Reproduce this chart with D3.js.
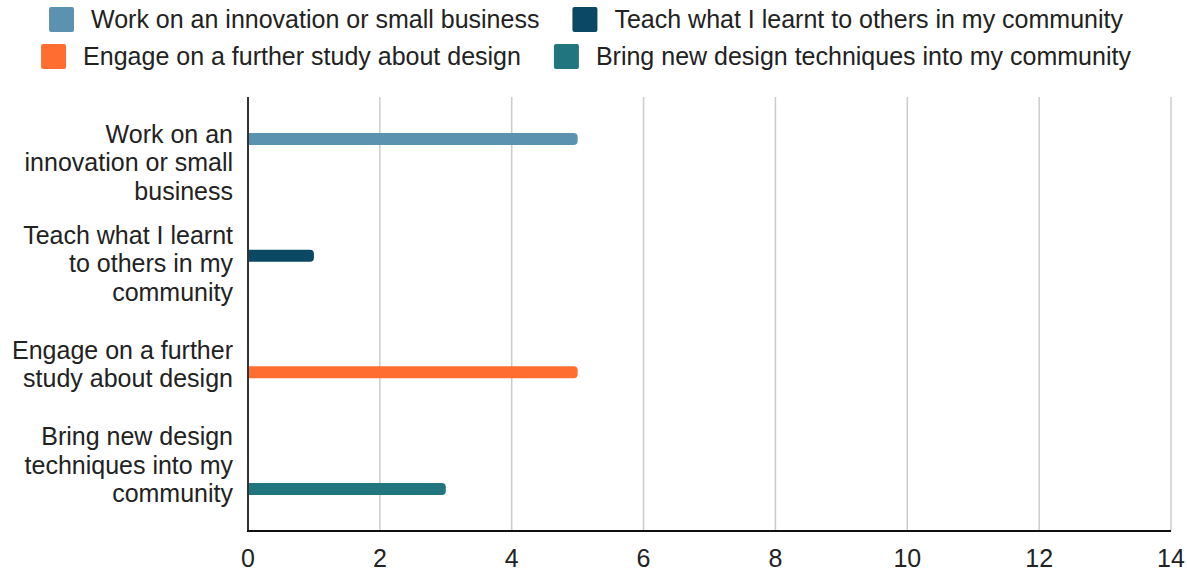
<!DOCTYPE html>
<html>
<head>
<meta charset="utf-8">
<script src="https://cdn.jsdelivr.net/npm/d3@7"></script>
<style>
  body { margin: 0; background: #fff; }
  text { font-family: Arial, "Liberation Sans", sans-serif; fill: #222; }
</style>
</head>
<body>
<svg id="chart" width="1187" height="571"></svg>
<script>
// categories and series
var categories = ["Work on an innovation or small business", "Teach what I learnt to others in my community",
                  "Engage on a further study about design", "Bring new design techniques into my community"];
var categoryLines = [
    ["Work on an", "innovation or small", "business"],
    ["Teach what I learnt", "to others in my", "community"],
    ["Engage on a further", "study about design"],
    ["Bring new design", "techniques into my", "community"]
];
var seriesNames = categories;
var seriesColors = ["#5b92b0", "#0b4864", "#ff6d31", "#20757f"];
// values[series][category]
var values = [
    [5, 0, 0, 0],
    [0, 1, 0, 0],
    [0, 0, 5, 0],
    [0, 0, 0, 3]
];
var xTicks = [0, 2, 4, 6, 8, 10, 12, 14];

var svg = d3.select("#chart");
var plotLeft = 248, plotRight = 1171, plotTop = 97, plotBottom = 531;
var fontSize = 25;

var x = d3.scaleLinear().domain([0, 14]).range([plotLeft, plotRight]);
var y0 = d3.scaleBand().domain(categories).range([plotTop, plotBottom]);
var bw = y0.bandwidth();
var y1 = d3.scaleBand().domain(seriesNames).range([bw * 0.35, bw * 0.65]);
var yLabel = d3.scalePoint().domain(categories).range([plotTop, plotBottom]).padding(0.65);

// gridlines
svg.append("g").selectAll("line")
    .data(xTicks.filter(function(d) { return d > 0; }))
    .enter().append("line")
    .attr("x1", function(d) { return x(d); })
    .attr("x2", function(d) { return x(d); })
    .attr("y1", plotTop).attr("y2", plotBottom)
    .attr("stroke", "#cccccc")
    .attr("stroke-width", 1.5);

// bars
var barH = 12, r = 4;
var bars = [];
values.forEach(function(row, s) {
    row.forEach(function(v, c) {
        if (v > 0) bars.push({s: s, c: c, v: v});
    });
});
svg.append("g").selectAll("path")
    .data(bars)
    .enter().append("path")
    .attr("fill", function(d) { return seriesColors[d.s]; })
    .attr("d", function(d) {
        var yc = y0(categories[d.c]) + y1(seriesNames[d.s]) + y1.bandwidth() / 2;
        var x0 = x(0), x1 = x(d.v);
        var t = yc - barH / 2, b = yc + barH / 2;
        return "M" + x0 + "," + t +
               "H" + (x1 - r) +
               "A" + r + "," + r + " 0 0 1 " + x1 + "," + (t + r) +
               "V" + (b - r) +
               "A" + r + "," + r + " 0 0 1 " + (x1 - r) + "," + b +
               "H" + x0 + "Z";
    });

// axes lines
svg.append("line")
    .attr("x1", plotLeft).attr("x2", plotLeft).attr("y1", plotTop).attr("y2", plotBottom + 1)
    .attr("stroke", "#333").attr("stroke-width", 2);
svg.append("line")
    .attr("x1", plotLeft - 1).attr("x2", plotRight).attr("y1", plotBottom).attr("y2", plotBottom)
    .attr("stroke", "#111").attr("stroke-width", 2);

// x tick labels
svg.append("g").selectAll("text")
    .data(xTicks)
    .enter().append("text")
    .attr("x", function(d) { return x(d); })
    .attr("y", 567)
    .attr("text-anchor", "middle")
    .style("font-size", fontSize + "px")
    .text(function(d) { return d; });

// y labels (multi-line)
var lineH = 28.5;
var yl = svg.append("g").selectAll("text")
    .data(categories)
    .enter().append("text")
    .attr("text-anchor", "end")
    .style("font-size", fontSize + "px");
yl.each(function(d, i) {
    var lines = categoryLines[i];
    var cy = yLabel(d);
    var first = cy - (lines.length - 1) * lineH / 2 + 8.5;
    var t = d3.select(this);
    lines.forEach(function(ln, j) {
        t.append("tspan").attr("x", 233).attr("y", first + j * lineH).text(ln);
    });
});

// legend
var legendRows = [[0, 1], [2, 3]];
var legendY = [19.5, 56.5];
var sw = 25, gapSw = 17, gapItem = 33, centerX = 586;
legendRows.forEach(function(rowItems, ri) {
    var g = svg.append("g");
    var cx = 0;
    rowItems.forEach(function(si, k) {
        g.append("rect")
            .attr("x", cx).attr("y", legendY[ri] - sw / 2)
            .attr("width", sw).attr("height", sw)
            .attr("rx", 2)
            .attr("fill", seriesColors[si]);
        var t = g.append("text")
            .attr("x", cx + sw + gapSw)
            .attr("y", legendY[ri] + 8.5)
            .style("font-size", fontSize + "px")
            .text(seriesNames[si]);
        cx += sw + gapSw + t.node().getComputedTextLength();
        if (k < rowItems.length - 1) cx += gapItem;
    });
    g.attr("transform", "translate(" + (centerX - cx / 2) + ",0)");
});
</script>
</body>
</html>
